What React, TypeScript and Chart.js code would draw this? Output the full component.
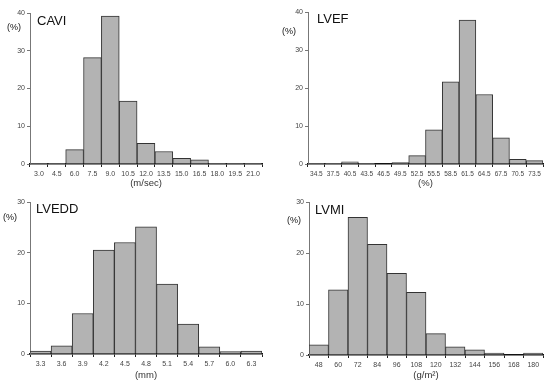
import React, { useEffect, useRef } from "react";
import { Chart, registerables } from "chart.js";

Chart.register(...registerables);

const caviLabels = ["3.0", "4.5", "6.0", "7.5", "9.0", "10.5", "12.0", "13.5", "15.0", "16.5", "18.0", "19.5", "21.0"];
const caviValues = [0.2, 0.2, 3.8, 28.2, 39.2, 16.7, 5.5, 3.3, 1.5, 1.1, 0.2, 0.2, 0.2];

const lvefLabels = ["34.5", "37.5", "40.5", "43.5", "46.5", "49.5", "52.5", "55.5", "58.5", "61.5", "64.5", "67.5", "70.5", "73.5"];
const lvefValues = [0.2, 0.2, 0.6, 0.2, 0, 0.4, 2.2, 9.0, 21.6, 37.9, 18.3, 6.9, 1.2, 0.9];

const lveddLabels = ["3.3", "3.6", "3.9", "4.2", "4.5", "4.8", "5.1", "5.4", "5.7", "6.0", "6.3"];
const lveddValues = [0.6, 1.6, 8.0, 20.5, 22.0, 25.1, 13.8, 5.9, 1.4, 0.5, 0.6];

const lvmiLabels = ["48", "60", "72", "84", "96", "108", "120", "132", "144", "156", "168", "180"];
const lvmiValues = [2.0, 12.8, 27.0, 21.7, 16.0, 12.3, 4.2, 1.6, 1.0, 0.4, 0, 0.4];

const FONT = "'Liberation Sans', Arial, sans-serif";
const W = 275;
const H = 192;

type PanelProps = {
  labels: string[];
  values: number[];
  yMax: number;
  xTitle: string;
  tickSize: number;
  area: { left: number; top: number; right: number; bottom: number };
};

function Histogram({ labels, values, yMax, xTitle, tickSize, area }: PanelProps) {
  const ref = useRef<HTMLCanvasElement | null>(null);
  useEffect(() => {
    if (!ref.current) return;
    const padBottom = 2;
    const chart = new Chart(ref.current, {
      type: "bar",
      data: {
        labels,
        datasets: [
          {
            data: values,
            backgroundColor: "#b3b3b3",
            borderColor: "#333333",
            borderWidth: 1,
            categoryPercentage: 1,
            barPercentage: 1,
          },
        ],
      },
      options: {
        responsive: false,
        animation: false,
        layout: {
          padding: { left: 0, top: area.top, right: W - area.right, bottom: padBottom },
        },
        plugins: { legend: { display: false }, tooltip: { enabled: false }, title: { display: false } },
        scales: {
          x: {
            offset: true,
            grid: { display: true, drawOnChartArea: false, drawTicks: true, tickLength: 3, offset: true, color: "#222" },
            border: { display: true, color: "#111", width: 1.5 },
            ticks: { color: "#444", font: { family: FONT, size: tickSize }, padding: 3, maxRotation: 0, autoSkip: false },
            title: { display: true, text: xTitle, color: "#333", font: { family: FONT, size: 9.5 }, padding: { top: 0, bottom: 1 } },
            afterFit: (s: any) => {
              s.height = H - padBottom - area.bottom;
            },
          },
          y: {
            min: 0,
            max: yMax,
            grid: { display: true, drawOnChartArea: false, drawTicks: true, tickLength: 3, color: "#777" },
            border: { display: true, color: "#777", width: 1 },
            ticks: { stepSize: 10, color: "#444", font: { family: FONT, size: 7 }, padding: 2 },
            afterFit: (s: any) => {
              s.width = area.left;
            },
          },
        },
      },
    } as any);
    return () => chart.destroy();
  }, []);
  return <canvas ref={ref} width={W} height={H} style={{ width: W, height: H, display: "block" }} />;
}

const txt = (x: number, y: number, size: number, s: string) => (
  <div
    style={{
      position: "absolute",
      left: x,
      top: y,
      fontFamily: FONT,
      fontSize: size,
      lineHeight: 1,
      color: "#111",
      whiteSpace: "nowrap",
    }}
  >
    {s}
  </div>
);

export default function App() {
  return (
    <div style={{ position: "fixed", left: 0, top: 0, width: 550, height: 384, background: "#fff" }}>
      <div style={{ position: "absolute", left: 0, top: 0 }}>
        <Histogram labels={caviLabels} values={caviValues} yMax={40} xTitle="(m/sec)" tickSize={7} area={{ left: 30, top: 13, right: 262, bottom: 164 }} />
      </div>
      <div style={{ position: "absolute", left: 275, top: 0 }}>
        <Histogram labels={lvefLabels} values={lvefValues} yMax={40} xTitle="(%)" tickSize={6.5} area={{ left: 33, top: 12, right: 268, bottom: 164 }} />
      </div>
      <div style={{ position: "absolute", left: 0, top: 192 }}>
        <Histogram labels={lveddLabels} values={lveddValues} yMax={30} xTitle="(mm)" tickSize={7} area={{ left: 30, top: 10, right: 262, bottom: 162 }} />
      </div>
      <div style={{ position: "absolute", left: 275, top: 192 }}>
        <Histogram labels={lvmiLabels} values={lvmiValues} yMax={30} xTitle="(g/m²)" tickSize={7} area={{ left: 34, top: 10, right: 268, bottom: 163 }} />
      </div>
      {txt(37, 14, 13, "CAVI")}
      {txt(7, 23, 9, "(%)")}
      {txt(317, 12, 13, "LVEF")}
      {txt(282, 27, 9, "(%)")}
      {txt(36, 202, 13, "LVEDD")}
      {txt(3, 213, 9, "(%)")}
      {txt(315, 203, 13, "LVMI")}
      {txt(287, 216, 9, "(%)")}
    </div>
  );
}
